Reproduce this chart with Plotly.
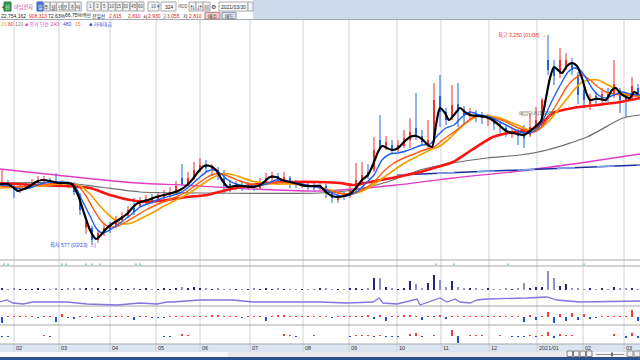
import plotly.graph_objects as go

W, H = 640, 360
FONT = "Liberation Sans, Noto Sans CJK KR"
KFONT = "Noto Sans CJK KR"

# ---------------- data ----------------
BARS = list(range(1, 320, 3))  # bar index of each sampled candle

OPEN = [1760,1770,1740,1700,1720,1740,1770,1800,1800,1780,
        1760,1770,1760,1650,1320,1320,1200,1270,1340,1340,
        1400,1440,1520,1540,1580,1610,1600,1630,1650,1680,
        1820,1760,1820,1900,1950,1900,1900,1820,1760,1720,
        1750,1720,1740,1720,1780,1820,1840,1800,1820,1780,
        1740,1760,1740,1720,1740,1670,1600,1650,1640,1700,
        1780,1880,1900,2200,2120,2150,2100,2140,2200,2320,
        2240,2140,2200,2640,2480,2420,2560,2500,2440,2460,
        2440,2410,2420,2360,2320,2260,2290,2270,2250,2320,
        2380,3000,2920,2860,2940,2980,2850,2700,2560,2640,
        2600,2660,2640,2700,2640,2620,2720]
CLOSE = [1780,1750,1700,1720,1740,1770,1800,1810,1780,1760,
         1770,1760,1680,1500,1380,1200,1270,1320,1300,1400,
         1440,1500,1480,1590,1610,1590,1640,1660,1680,1740,
         1760,1820,1900,1950,1920,1930,1840,1740,1720,1750,
         1730,1740,1720,1770,1820,1850,1810,1830,1770,1750,
         1760,1730,1720,1750,1670,1620,1640,1630,1700,1800,
         1850,1840,2100,2120,2180,2100,2150,2220,2280,2230,
         2180,2200,2600,2480,2400,2550,2480,2450,2470,2430,
         2420,2430,2360,2330,2290,2280,2240,2220,2330,2400,
         2600,2900,2840,3000,3000,2900,2650,2600,2620,2600,
         2660,2620,2760,2600,2600,2740,2650]
HIGH = [1900,1800,1760,1750,1770,1810,1840,1840,1820,1870,
        1800,1790,1780,1670,1420,1340,1300,1360,1380,1440,
        1480,1540,1620,1630,1650,1660,1680,1700,1730,1790,
        1960,1880,1980,2020,2000,1960,1930,1900,1800,1790,
        1780,1780,1760,1820,1870,1880,1870,1880,1840,1800,
        1790,1780,1770,1770,1760,1700,1670,1680,1740,1970,
        1980,1960,2230,2450,2240,2200,2200,2300,2420,2670,
        2300,2400,2770,2850,2520,2750,2770,2540,2520,2500,
        2480,2460,2440,2390,2340,2320,2310,2350,2470,2530,
        2620,3250,3000,3120,3070,3020,2880,2740,2660,2680,
        2720,2720,3000,2720,2680,2830,2760]
LOW = [1740,1720,1620,1670,1700,1720,1750,1760,1750,1740,
       1730,1720,1650,1450,1260,1150,1170,1240,1270,1320,
       1380,1420,1450,1520,1550,1560,1580,1610,1620,1660,
       1740,1740,1800,1880,1880,1840,1800,1670,1680,1700,
       1690,1700,1690,1710,1760,1790,1780,1770,1720,1720,
       1720,1700,1680,1700,1620,1570,1570,1600,1620,1680,
       1760,1810,1880,2100,2100,2060,2080,2120,2120,2200,
       2150,2120,2170,2330,2350,2400,2330,2350,2400,2380,
       2360,2340,2300,2270,2230,2220,2150,2120,2230,2300,
       2330,2850,2750,2820,2900,2850,2560,2520,2500,2550,
       2570,2580,2620,2470,2430,2600,2630]

VOLUME = [800,400,450,400,350,400,420,380,400,450,
          400,450,500,600,550,500,450,400,400,420,
          400,380,800,400,420,380,400,420,400,450,
          1200,800,1200,800,450,400,420,380,400,400,
          380,400,420,380,450,400,420,400,380,400,
          400,380,400,420,450,400,380,400,420,800,
          400,450,4800,4800,1200,450,400,800,3600,2400,
          800,2800,6000,4000,1200,3600,1200,450,800,420,
          400,420,380,400,420,400,450,2800,800,1200,
          1200,7600,4800,1600,2400,800,450,400,420,400,
          420,400,1200,450,800,800,400]

OSC1 = [-6,1,1,1,1,1,-1,1,1,-5,
        3,-1,-2,1,1,-1,1,1,1,1,
        1,1,-3,1,1,-1,-1,-1,1,1,
        1,1,1,1,1,2,2,1,1,1,
        -1,1,1,1,-4,1,2,2,1,1,
        1,1,1,1,1,-1,1,1,1,1,
        1,2,-2,2,-4,1,1,2,2,1,
        -3,1,1,2,-2,1,1,1,1,1,
        1,1,1,1,1,1,1,-5,2,-3,
        1,5,-6,3,-4,4,-3,3,-2,-1,
        1,1,1,1,1,7,-4]
OSC2 = [-1,-1,0,0,0,0,0,1,-1,0,
        0,0,0,0,0,0,0,0,0,0,
        0,0,0,0,0,0,0,-1,-1,0,
        2,1,0,0,0,0,0,0,0,0,
        0,0,0,0,0,0,0,2,1,-1,
        0,0,1,0,0,0,0,0,-1,1,
        1,1,-1,1,-1,-1,-1,0,2,3,
        -1,0,1,0,0,6,-7,0,1,1,
        1,0,0,1,0,-1,-1,-1,1,-1,
        1,4,-2,2,1,1,0,0,0,0,
        0,0,2,0,-2,3,-2]

# moving averages (bar index, price)
MA5_X = [0,4,7,9,12,15,18,21,25,29,33,36,39,42,45,48,50,53,56,60,64,67,70,74,78,82,86,90,93,96,99,102,105,108,111,114,117,121,125,129,132,135,138,141,145,149,153,157,160,163,166,169,172,175,178,181,184,187,189,191,193.5,196,199,202,205,208,211,214,216,218,220,222.5,224.5,227,230,232.5,235,239,243,247,250,253,256,259,262,265,268,270.5,273,275,277,279,281,283.5,286,288.5,291,293,295,297.5,300,303,306,308,310,313,315,317,319]
MA5_Y = [1760,1760,1720,1690,1710,1740,1780,1800,1790,1770,1770,1760,1650,1470,1300,1210,1240,1310,1360,1410,1470,1540,1580,1600,1630,1650,1670,1700,1740,1800,1880,1940,1940,1900,1800,1730,1740,1740,1730,1740,1780,1830,1830,1800,1780,1760,1740,1740,1740,1680,1640,1630,1640,1660,1720,1800,1850,1980,2080,2140,2120,2100,2120,2180,2230,2240,2210,2150,2130,2350,2520,2470,2400,2450,2520,2480,2450,2440,2430,2390,2340,2290,2270,2260,2250,2290,2340,2390,2620,2820,2930,2900,2870,2940,2970,2940,2820,2680,2600,2610,2610,2600,2700,2720,2670,2630,2620,2680,2660]
MA10_X = [0,5,10,15,20,25,30,35,38,41,45,48,51,54,58,62,66,70,75,80,85,90,95,100,104,107,110,114,118,123,128,133,138,143,148,153,158,162,166,170,175,179,183,187,191,195,199,203,207,211,215,219,223,227,231,235,240,245,250,255,260,265,269,272,275,278,281,284,287,290,293,296,299,303,307,311,315,320]
MA10_Y = [1750,1740,1710,1720,1760,1780,1780,1770,1720,1600,1440,1320,1270,1290,1340,1400,1460,1530,1570,1610,1640,1670,1740,1830,1890,1900,1870,1800,1760,1740,1740,1760,1800,1790,1770,1750,1730,1710,1670,1640,1650,1690,1770,1850,2000,2060,2070,2090,2120,2150,2160,2250,2320,2350,2430,2480,2450,2430,2380,2330,2280,2270,2320,2420,2550,2670,2780,2880,2920,2900,2820,2720,2650,2620,2650,2680,2660,2650]
MA20_X = [0,10,20,30,35,39,43,47,51,55,59,63,68,73,78,83,88,93,98,103,107,111,115,120,125,131,137,143,150,156,162,167,172,177,182,187,192,197,202,207,212,217,222,227,232,237,242,247,252,257,262,267,271,275,279,283,287,291,295,299,303,307,312,316,320]
MA20_Y = [1740,1730,1750,1770,1770,1740,1640,1500,1380,1330,1340,1380,1440,1500,1550,1590,1630,1680,1750,1820,1860,1860,1830,1790,1760,1750,1770,1780,1760,1740,1710,1680,1660,1670,1710,1780,1890,1970,2020,2060,2100,2130,2210,2280,2360,2430,2440,2420,2390,2340,2300,2280,2330,2450,2580,2720,2810,2850,2800,2730,2680,2660,2650,2640,2640]
MA60_X = [0,10,20,30,35,40,45,50,55,59,63,67,72,77,82,87,92,97,102,107,111,115,120,126,132,138,145,152,159,165,170,175,180,185,190,195,200,205,210,215,220,225,230,235,240,245,250,255,260,265,270,275,279,283,287,291,295,299,303,307,311,315,320]
MA60_Y = [1720,1730,1740,1760,1760,1740,1660,1540,1440,1380,1360,1380,1430,1480,1540,1590,1640,1700,1770,1830,1860,1860,1830,1790,1770,1760,1760,1750,1730,1700,1670,1660,1680,1730,1800,1870,1940,2000,2050,2100,2140,2220,2320,2400,2440,2440,2420,2380,2340,2300,2320,2400,2500,2600,2700,2780,2800,2800,2760,2720,2670,2650,2640]
MA120_X = [0,16.5,33.5,45,55,65,73.5,83.5,93.5,103.5,113.5,120,133.5,145,160,170,176.5,185,198.5,210,218.5,226.5,235,246.5,256.5,265,270,276.5,286.5,298.5,310,320]
MA120_Y = [1770,1750,1740,1720,1650,1600,1580,1600,1630,1650,1700,1730,1770,1780,1780,1770,1750,1780,1830,1880,1930,1980,2090,2230,2280,2300,2350,2470,2520,2550,2580,2620]
MA240_X = [0,33.5,50,70,100,160,176.5,193.5,210,226.5,243.5,260,273.5,293.5,311.5,320]
MA240_Y = [1770,1770,1730,1680,1670,1670,1700,1780,1900,1970,2020,2050,2100,2230,2420,2450]
MA480_X = [0,68.5,91.5,116.5,160,198.5,226.5,260,293.5,320]
MA480_Y = [1910,1770,1750,1720,1690,1750,1820,1890,1980,2060]
TREND_X = [198.5, 320]
TREND_Y = [1850, 1950]

# second-window line indicator
LINE_X = [0,3.5,6.5,11.5,16.5,33.5,43.5,58.5,70,78.5,83.5,86.5,100,116.5,126.5,150,160,173.5,186.5,189.5,191.5,198.5,208.5,210,216.5,220,223.5,227.5,230,235,238.5,243.5,263.5,273.5,278.5,290,320]
LINE_Y = [4,6,3,2,4,4,2,1,3,2,4,4,6,6,4,4,4,3,4,8,3,2,7,1,6,8,4,7,4,3,6,7,8,9,6,4,5]

SIGNAL_X = [2,4,31,33,43,46,50,68,70,218,227,254,292]

MONTH_BARS = [7, 29.5, 55, 78, 100, 125, 151.5, 174.5, 198.5, 220.5, 244.5, 268.5, 291.5, 312]
MONTH_LABELS = ["02","03","04","05","06","07","08","09","10","11","12","2021/01","02","03"]

# ---------------- figure ----------------
def py(p):
    return 1 - p / H

fig = go.Figure()

RED, BLUE = "#ee3030", "#2462dc"
up = [c >= o for o, c in zip(OPEN, CLOSE)]

for flag, col in ((True, RED), (False, BLUE)):
    xs, ys = [], []
    for b, h, l, u in zip(BARS, HIGH, LOW, up):
        if u == flag:
            xs += [b, b, None]
            ys += [l, h, None]
    fig.add_trace(go.Scatter(x=xs, y=ys, mode="lines", line=dict(color=col, width=1),
                             hoverinfo="skip", yaxis="y"))
    bx = [b for b, u in zip(BARS, up) if u == flag]
    base = [o for o, u in zip(OPEN, up) if u == flag]
    hgt = [c - o for o, c, u in zip(OPEN, CLOSE, up) if u == flag]
    fig.add_trace(go.Bar(x=bx, y=hgt, base=base, width=1.0, marker=dict(color=col, line=dict(width=0)),
                         yaxis="y"))

def ma(x, y, color, width, dash=None, shape="spline"):
    fig.add_trace(go.Scatter(x=x, y=y, mode="lines",
                             line=dict(color=color, width=width, shape=shape, smoothing=0.7, dash=dash),
                             hoverinfo="skip", yaxis="y"))

ma(MA480_X, MA480_Y, "#e23cc4", 1.3)
ma(MA240_X, MA240_Y, "#6e6e6e", 1.2)
ma(TREND_X, TREND_Y, "#1b2c9c", 1.5, shape="linear")
ma(TREND_X, TREND_Y, "#7f9fe6", 1.6, dash="18px,22px", shape="linear")
ma(MA120_X, MA120_Y, "#ff1414", 2.6)
ma(MA60_X, MA60_Y, "#f4a000", 1.7)
ma(MA20_X, MA20_Y, "#ff5a12", 1.4)
ma(MA10_X, MA10_Y, "#1e60ea", 1.4)
ma(MA5_X, MA5_Y, "#000000", 2.2)

fig.add_trace(go.Scatter(x=SIGNAL_X, y=[1] * len(SIGNAL_X), mode="markers",
                         marker=dict(color="#8fd8bd", size=2, symbol="square"), yaxis="y2"))
vcol = ["#26267c" if u else "#8f8fc4" for u in up]
fig.add_trace(go.Bar(x=BARS, y=VOLUME, width=1.2, marker=dict(color=vcol, line=dict(width=0)), yaxis="y3"))
fig.add_trace(go.Scatter(x=LINE_X, y=LINE_Y, mode="lines", line=dict(color="#8474dc", width=1.3), yaxis="y4"))
fig.add_trace(go.Bar(x=BARS, y=OSC1, width=1.4,
                     marker=dict(color=["#f03c3c" if v > 0 else "#2052d4" for v in OSC1], line=dict(width=0)),
                     yaxis="y5"))
fig.add_trace(go.Bar(x=BARS, y=OSC2, width=1.4,
                     marker=dict(color=["#f03c3c" if v > 0 else "#2052d4" for v in OSC2], line=dict(width=0)),
                     yaxis="y6"))

shapes = []
ann = []

def rect(x0, y0, x1, y1, fill, line=None, layer="below"):
    shapes.append(dict(type="rect", xref="paper", yref="paper", x0=x0 / W, x1=x1 / W, y0=py(y1), y1=py(y0),
                       fillcolor=fill, line=dict(color=line or fill, width=1 if line else 0), layer=layer))

def hline(y, color, x0=0, x1=W, width=1):
    shapes.append(dict(type="line", xref="paper", yref="paper", x0=x0 / W, x1=x1 / W, y0=py(y), y1=py(y),
                       line=dict(color=color, width=width), layer="below"))

def txt(x, y, s, color="#222222", size=5, anchor="left", fam=FONT):
    ann.append(dict(x=x / W, y=py(y), xref="paper", yref="paper", text=s, showarrow=False,
                    xanchor=anchor, yanchor="middle", borderpad=0,
                    font=dict(family=fam, size=size, color=color)))

# bottom axis band and scroll bar
rect(0, 344, W, 352, "#dbe5f1")
rect(0, 352, W, 357, "#f7f7f7")
rect(228, 352, 565, 357, "#e9e9e9")
rect(0, 357, W, 360, "#2c4f8e")
for i in range(4):
    rect(567 + i * 6.5, 351, 572.5 + i * 6.5, 356.5, "#f4f4f4", "#808080", layer="above")
hline(354.5, "#909090", 596, 624)
rect(611, 352.5, 613, 356.5, "#707070", layer="above")
rect(627, 351, 633, 356.5, "#eeeeee", "#909090", layer="above")
rect(634, 351, 640, 356.5, "#eeeeee", "#909090", layer="above")

for b in MONTH_BARS:
    shapes.append(dict(type="line", xref="x", yref="paper", x0=b, x1=b, y0=py(352), y1=py(20),
                       line=dict(color="#d2d2d2", width=1), layer="below"))
for b, lab in zip(MONTH_BARS, MONTH_LABELS):
    ann.append(dict(x=b, y=py(348.3), xref="x", yref="paper", text=lab, showarrow=False, xanchor="left",
                    yanchor="middle", xshift=0.5, borderpad=0,
                    font=dict(family=FONT, size=5.5, color="#333333")))

for yy in (260, 266, 306, 325, 344):
    hline(yy, "#a9a9a9")

# header
rect(0, 0, W, 19, "#ffffff")
rect(253, 0, W, 19, "#cedaed")
hline(19.5, "#a4aab4")

txt(0.5, 6.5, "▾", "#333333", 5)
rect(4, 2, 11, 11, "#3a9c52", "#2a7a3a", layer="above")
txt(7.5, 6.5, "신", "#ffffff", 5, "center", KFONT)
txt(12.5, 6.5, "아남전자", "#cc2f8a", 5.2, fam=KFONT)
rect(37, 2, 43, 11, "#4a7fd6", "#3461b0", layer="above")
txt(40, 6.5, "일", "#ffffff", 5, "center", KFONT)
for i, s in enumerate(["주", "월", "년", "분", "초", "틱"]):
    x0 = 44 + i * 6.3
    rect(x0, 2, x0 + 5.8, 11, "#f1f1f1", "#a9a9a9")
    txt(x0 + 2.9, 6.5, s, "#333333", 4.8, "center", KFONT)
for i, s in enumerate(["1", "3", "5", "10", "15", "30", "45", "60"]):
    x0 = 87 + i * 7.2
    rect(x0, 2, x0 + 6.6, 11, "#f1f1f1", "#a9a9a9")
    txt(x0 + 3.3, 6.5, s, "#555555", 4.5, "center")
rect(148, 2, 159, 11, "#f4f4f4", "#a9a9a9")
txt(149.5, 6.5, "10 ▾", "#555555", 4.5)
rect(161, 2, 176, 11, "#ffffff", "#a9a9a9")
txt(175, 6.5, "324", "#222222", 5, "right")
txt(176.5, 6.5, "/600", "#555555", 4.8)
rect(189, 2, 196, 11, "#f4f4f4", "#a9a9a9")
txt(192.5, 6.5, "⇅", "#333333", 5, "center")
rect(196, 2, 203, 11, "#f4f4f4", "#a9a9a9")
txt(199.5, 6.5, "⇵", "#333333", 5, "center")
rect(203, 2, 210, 11, "#f4f4f4", "#a9a9a9")
txt(206.5, 6.5, "▤", "#333333", 5, "center")
txt(213.5, 6.5, "⚙", "#333333", 5.5, "center")
rect(219, 2, 248, 11, "#ffffff", "#a9a9a9")
txt(233.5, 6.5, "2021/03/30", "#222222", 5, "center")
rect(248, 2, 253, 11, "#f4f4f4", "#a9a9a9")

txt(0, 15.7, "22,754,162", "#222222", 5)
txt(28, 15.7, "908,313", "#e02020", 5)
txt(47, 15.7, "72.63%", "#222222", 5)
txt(64, 15.7, "66.75%백만", "#222222", 5)
txt(91, 15.7, "전일선", "#222222", 4.8, fam=KFONT)
txt(108, 15.7, "2,815", "#e02020", 5)
txt(127, 15.7, "2,810", "#e02020", 5)
txt(141.5, 15.7, "시", "#222222", 4.8, fam=KFONT)
txt(147, 15.7, "2,930", "#e02020", 5)
txt(160.5, 15.7, "고", "#222222", 4.8, fam=KFONT)
txt(166, 15.7, "3,055", "#e02020", 5)
txt(181.5, 15.7, "저", "#222222", 4.8, fam=KFONT)
txt(188, 15.7, "2,810", "#e02020", 5)
rect(205, 12.3, 220, 19, "#f6caca", "#b08080", layer="above")
txt(212.5, 15.7, "매수", "#333333", 4.8, "center", KFONT)
rect(222, 12.3, 236, 19, "#dfe5f0", "#8090a8", layer="above")
txt(229, 15.7, "매도", "#333333", 4.8, "center", KFONT)

# legend row
txt(0, 24.5, "20", "#f0a800", 5)
txt(7, 24.5, "60", "#f02020", 5)
txt(14, 24.5, "120", "#888888", 5)
txt(24, 24.5, "■ 종가 단순 240", "#e040c0", 5)
txt(62, 24.5, "480", "#3050d0", 5)
txt(74, 24.5, "15", "#f08000", 5)
txt(88, 24.5, "■ 거래대금", "#3a4ae0", 5)

# price labels
hi_i = HIGH.index(max(HIGH))
lo_i = LOW.index(min(LOW))
ann.append(dict(x=BARS[hi_i], y=HIGH[hi_i], xref="x", yref="y", text="최고 3,250 (01/08) →", showarrow=False,
                xanchor="right", yanchor="middle", xshift=-1, borderpad=0,
                font=dict(family=FONT, size=5.2, color="#f03030")))
ann.append(dict(x=BARS[lo_i], y=LOW[lo_i], xref="x", yref="y", text="최저 577 (03/23) →|", showarrow=False,
                xanchor="right", yanchor="middle", xshift=5, borderpad=0,
                font=dict(family=FONT, size=5.2, color="#2a4ad8")))
ann.append(dict(x=259, y=2470, xref="x", yref="y", text="매입단가(3,038)", showarrow=False,
                xanchor="left", yanchor="middle", borderpad=0,
                font=dict(family=FONT, size=5, color="#555555")))

def yax(p0, p1, rng):
    return dict(domain=[py(p1), py(p0)], range=rng, visible=False, fixedrange=True, anchor="x")

fig.update_layout(
    width=W, height=H, margin=dict(l=0, r=0, t=0, b=0),
    paper_bgcolor="#ffffff", plot_bgcolor="rgba(0,0,0,0)",
    showlegend=False, barmode="overlay", bargap=0,
    xaxis=dict(domain=[0, 1], range=[0, 320], visible=False, fixedrange=True, anchor="y"),
    yaxis=yax(20, 260, [1000, 3400]),
    yaxis2=yax(260, 266, [0, 4]),
    yaxis3=yax(266, 290, [0, 9600]),
    yaxis4=yax(292, 306, [0, 14]),
    yaxis5=yax(306, 325, [-8, 11]),
    yaxis6=yax(325, 344, [-8, 11]),
    shapes=shapes, annotations=ann,
)

fig.write_html("out.html")
